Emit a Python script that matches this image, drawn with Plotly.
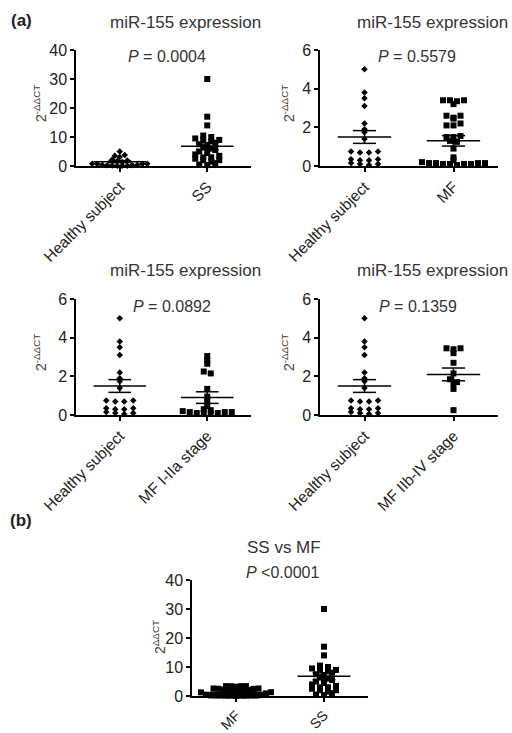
import numpy as np
import plotly.graph_objects as go

W, H = 512, 733

# ---- data (2^-ddCT) ----
healthy = [5.0, 3.8, 3.5, 3.1, 2.2, 1.9, 1.75, 1.4, 0.75, 0.75, 0.7, 0.7,
           0.35, 0.35, 0.3, 0.3, 0.15, 0.1, 0.1, 0.05]
ss = [30, 17, 14, 10.5, 10, 9.5, 9, 9, 8.5, 8, 7.5, 7, 6.5, 6, 5.5, 5, 4.5,
      4, 3.5, 3, 3, 2.5, 2, 2, 1.5, 1, 0.5, 0.3]
mf = [3.4, 3.4, 3.4, 3.35, 3.2, 2.6, 2.6, 2.5, 2.45, 2.2, 2.1, 2.1, 1.55,
      1.5, 1.5, 1.3, 1.25, 0.9, 0.45, 0.3, 0.2, 0.15, 0.15, 0.15, 0.15,
      0.1, 0.1, 0.1, 0.1, 0.05]
mf_early = [3.05, 2.85, 2.65, 2.25, 2.15, 1.35, 0.95, 0.7, 0.45, 0.3, 0.25,
            0.2, 0.15, 0.15, 0.15, 0.1, 0.1, 0.1, 0.05]
mf_late = [3.45, 3.45, 3.4, 3.2, 2.7, 2.15, 1.85, 1.7, 1.65, 1.35, 0.25]

# mean and SEM as drawn in the picture
group_names = ["healthy", "ss", "mf", "mf_early", "mf_late"]
group_means = [1.5, 6.8, 1.3, 0.9, 2.1]
group_sems = [0.33, 1.2, 0.27, 0.3, 0.33]

titles = ["miR-155 expression", "miR-155 expression", "miR-155 expression",
          "miR-155 expression", "SS vs MF"]
p_texts = ["<i>P</i> = 0.0004", "<i>P</i> = 0.5579", "<i>P</i> = 0.0892",
           "<i>P</i> = 0.1359", "<i>P</i> &lt;0.0001"]
tick_labels = [["Healthy subject", "SS"], ["Healthy subject", "MF"],
               ["Healthy subject", "MF I-IIa stage"],
               ["Healthy subject", "MF IIb-IV stage"], ["MF", "SS"]]
y_ticks_40 = [0, 10, 20, 30, 40]
y_ticks_6 = [0, 2, 4, 6]

series = dict(healthy=healthy, ss=ss, mf=mf, mf_early=mf_early, mf_late=mf_late)
stats = {n: (m, s) for n, m, s in zip(group_names, group_means, group_sems)}

# ---- layout geometry (pixels) ----
panels = [
    dict(groups=["healthy", "ss"], x0=76, x1=251, ytop=50, ybot=166, ymax=40,
         yt=y_ticks_40, tpos=(185, 22), ppos=(167, 56), ytitle=(40, 104),
         ylab="2<sup>-ΔΔCT</sup>", sp=[5, 8], xfs=15.5),
    dict(groups=["healthy", "mf"], x0=320, x1=498, ytop=50, ybot=166, ymax=6,
         yt=y_ticks_6, tpos=(432, 22), ppos=(417, 56), ytitle=(288, 104),
         ylab="2<sup>-ΔΔCT</sup>", sp=[9, 7], xfs=15.5),
    dict(groups=["healthy", "mf_early"], x0=76, x1=251, ytop=299, ybot=415, ymax=6,
         yt=y_ticks_6, tpos=(185, 271), ppos=(172, 306), ytitle=(40, 353),
         ylab="2<sup>-ΔΔCT</sup>", sp=[9, 7], xfs=15.5),
    dict(groups=["healthy", "mf_late"], x0=320, x1=498, ytop=299, ybot=415, ymax=6,
         yt=y_ticks_6, tpos=(432, 271), ppos=(418, 306), ytitle=(288, 353),
         ylab="2<sup>-ΔΔCT</sup>", sp=[9, 7], xfs=15.5),
    dict(groups=["mf", "ss"], x0=192, x1=368, ytop=580, ybot=696, ymax=40,
         yt=y_ticks_40, tpos=(284, 547), ppos=(283, 572), ytitle=(159, 637),
         ylab="2<sup>ΔΔCT</sup>", sp=[5, 8], xfs=14),
]


def swarm(vals, px_per_y, px_per_x, row_px, sp_px):
    v = np.asarray(vals, float)
    rows = np.floor(v * px_per_y / row_px).astype(int)
    offs = np.zeros(len(v))
    for r in np.unique(rows):
        idx = np.where(rows == r)[0]
        idx = idx[np.argsort(v[idx])]
        k = len(idx)
        order = np.arange(k)
        pos = np.where(order % 2 == 0, order // 2, -(order // 2 + 1))
        pos = pos - (pos.max() + pos.min()) / 2
        offs[idx] = pos * sp_px / px_per_x
    return offs


fig = go.Figure()
font_fam = "Liberation Sans, Arial, sans-serif"
annotations = []

for k, p in enumerate(panels):
    n = k + 1
    xa = "x" if n == 1 else f"x{n}"
    ya = "y" if n == 1 else f"y{n}"
    px_per_x = (p["x1"] - p["x0"]) / 2.0
    px_per_y = (p["ybot"] - p["ytop"]) / p["ymax"]
    for gi, g in enumerate(p["groups"]):
        vals = series[g]
        offs = swarm(vals, px_per_y, px_per_x, 4, p["sp"][gi])
        is_h = g == "healthy"
        fig.add_trace(go.Scatter(
            x=gi + offs, y=vals, mode="markers", xaxis=xa, yaxis=ya,
            cliponaxis=False, showlegend=False,
            marker=dict(symbol="diamond" if is_h else "square",
                        size=5 if is_h else 6, color="black",
                        line=dict(width=0))))
        m, s = stats[g]
        lx = [gi - 0.3, gi + 0.3, None, gi, gi, None,
              gi - 0.13, gi + 0.13, None, gi - 0.13, gi + 0.13]
        ly = [m, m, None, m - s, m + s, None,
              m + s, m + s, None, m - s, m - s]
        fig.add_trace(go.Scatter(
            x=lx, y=ly, mode="lines", xaxis=xa, yaxis=ya, cliponaxis=False,
            showlegend=False, line=dict(color="black", width=1.5)))

    xdom = [p["x0"] / W, p["x1"] / W]
    ydom = [1 - p["ybot"] / H, 1 - p["ytop"] / H]
    xkey = "xaxis" if n == 1 else f"xaxis{n}"
    ykey = "yaxis" if n == 1 else f"yaxis{n}"
    fig.update_layout(**{
        xkey: dict(domain=xdom, anchor=ya, range=[-0.5, 1.5], automargin=False,
                   tickvals=[0, 1], ticktext=tick_labels[k], tickangle=-45,
                   showline=True, linecolor="black", linewidth=1.5,
                   ticks="outside", ticklen=4, tickwidth=1.5, tickcolor="black",
                   showgrid=False, zeroline=False, fixedrange=True,
                   tickfont=dict(family=font_fam, size=p["xfs"], color="#222")),
        ykey: dict(domain=ydom, anchor=xa, range=[0, p["ymax"]], automargin=False,
                   tickvals=p["yt"], ticktext=[str(t) for t in p["yt"]],
                   showline=True, linecolor="black", linewidth=1.5,
                   ticks="outside", ticklen=4, tickwidth=1.5, tickcolor="black",
                   showgrid=False, zeroline=False, fixedrange=True,
                   tickfont=dict(family=font_fam, size=16, color="#222")),
    })
    annotations.append(dict(text=titles[k], x=p["tpos"][0] / W, y=1 - p["tpos"][1] / H,
                            xref="paper", yref="paper", showarrow=False,
                            xanchor="center", yanchor="middle",
                            font=dict(family=font_fam, size=17, color="#333")))
    annotations.append(dict(text=p_texts[k], x=p["ppos"][0] / W, y=1 - p["ppos"][1] / H,
                            xref="paper", yref="paper", showarrow=False,
                            xanchor="center", yanchor="middle",
                            font=dict(family=font_fam, size=16, color="#333")))
    annotations.append(dict(text=p["ylab"], x=p["ytitle"][0] / W, y=1 - p["ytitle"][1] / H,
                            xref="paper", yref="paper", showarrow=False, textangle=-90,
                            xanchor="center", yanchor="middle",
                            font=dict(family=font_fam, size=14, color="#4a3a30")))

annotations.append(dict(text="<b>(a)</b>", x=21 / W, y=1 - 21 / H, xref="paper", yref="paper",
                        showarrow=False, xanchor="center", yanchor="middle",
                        font=dict(family=font_fam, size=17, color="#222")))
annotations.append(dict(text="<b>(b)</b>", x=21 / W, y=1 - 520 / H, xref="paper", yref="paper",
                        showarrow=False, xanchor="center", yanchor="middle",
                        font=dict(family=font_fam, size=17, color="#222")))

fig.update_layout(width=W, height=H, margin=dict(l=0, r=0, t=0, b=0),
                  paper_bgcolor="white", plot_bgcolor="white",
                  annotations=annotations, showlegend=False)

fig.write_html("out.html", config={"displayModeBar": False},
               post_script="document.body.style.margin='0px';document.body.style.overflow='hidden';")
